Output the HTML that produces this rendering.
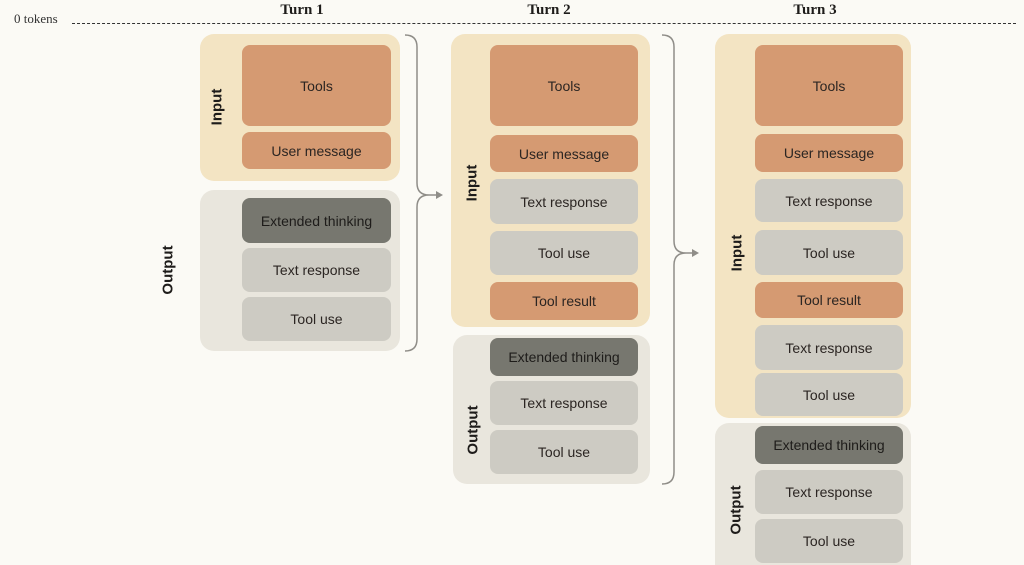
<!DOCTYPE html>
<html style="overflow:hidden;width:1024px;height:565px"><head><meta charset="utf-8"><style>
body{margin:0;width:1024px;height:565px;background:#fbfaf5;position:relative;overflow:hidden;font-family:"Liberation Sans",sans-serif;}
.a{position:absolute;box-sizing:border-box;}
.ci{background:#f3e4c3;border-radius:14px;}
.co{background:#e9e6dd;border-radius:14px;}
.b{position:absolute;display:flex;align-items:center;justify-content:center;font-size:14px;color:#2b2522;border-radius:8px;}
.o{background:#d59a72;}
.g{background:#cdcbc3;}
.d{background:#77776f;color:#1e1c1a;}
.lbl{position:absolute;transform:translate(-50%,-50%) rotate(-90deg);font-weight:bold;font-size:15px;color:#1e1c1a;white-space:nowrap;}
.t{position:absolute;font-family:"Liberation Serif",serif;font-weight:bold;font-size:15px;color:#1e1c1a;transform:translateX(-50%);top:2px;}
</style></head><body>
<div class="a" style="left:14px;top:11px;font-family:'Liberation Serif',serif;font-size:13px;color:#333">0 tokens</div>
<div class="a" style="left:72px;top:23px;width:944px;border-top:1.5px dashed #333"></div>
<div class="t" style="left:302px">Turn 1</div>
<div class="t" style="left:549px">Turn 2</div>
<div class="t" style="left:815px">Turn 3</div>

<!-- Turn 1 -->
<div class="a ci" style="left:200px;top:34px;width:200px;height:147px"></div>
<div class="lbl" style="left:217px;top:107px">Input</div>
<div class="b o" style="left:242px;top:45px;width:149px;height:81px">Tools</div>
<div class="b o" style="left:242px;top:132px;width:149px;height:37px">User message</div>
<div class="a co" style="left:200px;top:190px;width:200px;height:161px"></div>
<div class="lbl" style="left:168px;top:270px">Output</div>
<div class="b d" style="left:242px;top:198px;width:149px;height:45px">Extended thinking</div>
<div class="b g" style="left:242px;top:248px;width:149px;height:44px">Text response</div>
<div class="b g" style="left:242px;top:297px;width:149px;height:44px">Tool use</div>

<!-- Turn 2 -->
<div class="a ci" style="left:451px;top:34px;width:199px;height:293px"></div>
<div class="lbl" style="left:472px;top:183px">Input</div>
<div class="b o" style="left:490px;top:45px;width:148px;height:81px">Tools</div>
<div class="b o" style="left:490px;top:135px;width:148px;height:37px">User message</div>
<div class="b g" style="left:490px;top:179px;width:148px;height:45px">Text response</div>
<div class="b g" style="left:490px;top:231px;width:148px;height:44px">Tool use</div>
<div class="b o" style="left:490px;top:282px;width:148px;height:38px">Tool result</div>
<div class="a co" style="left:453px;top:335px;width:197px;height:149px"></div>
<div class="lbl" style="left:473px;top:430px">Output</div>
<div class="b d" style="left:490px;top:338px;width:148px;height:38px">Extended thinking</div>
<div class="b g" style="left:490px;top:381px;width:148px;height:44px">Text response</div>
<div class="b g" style="left:490px;top:430px;width:148px;height:44px">Tool use</div>

<!-- Turn 3 -->
<div class="a ci" style="left:715px;top:34px;width:196px;height:384px"></div>
<div class="lbl" style="left:737px;top:253px">Input</div>
<div class="b o" style="left:755px;top:45px;width:148px;height:81px">Tools</div>
<div class="b o" style="left:755px;top:134px;width:148px;height:38px">User message</div>
<div class="b g" style="left:755px;top:179px;width:148px;height:43px">Text response</div>
<div class="b g" style="left:755px;top:230px;width:148px;height:45px">Tool use</div>
<div class="b o" style="left:755px;top:282px;width:148px;height:36px">Tool result</div>
<div class="b g" style="left:755px;top:325px;width:148px;height:45px">Text response</div>
<div class="b g" style="left:755px;top:373px;width:148px;height:43px">Tool use</div>
<div class="a co" style="left:715px;top:423px;width:196px;height:142px;border-bottom-left-radius:0;border-bottom-right-radius:0"></div>
<div class="lbl" style="left:736px;top:510px">Output</div>
<div class="b d" style="left:755px;top:426px;width:148px;height:38px">Extended thinking</div>
<div class="b g" style="left:755px;top:470px;width:148px;height:44px">Text response</div>
<div class="b g" style="left:755px;top:519px;width:148px;height:44px">Tool use</div>

<svg class="a" style="left:0;top:0" width="1024" height="565">
<g fill="none" stroke="#8f8d88" stroke-width="1.5">
<path d="M405 35 Q417 35 417 47 L417 183 Q417 195 429 195 M429 195 Q417 195 417 207 L417 339 Q417 351 405 351"/>
<path d="M429 195 L438 195"/>
<path d="M662 35 Q674 35 674 47 L674 241 Q674 253 686 253 M686 253 Q674 253 674 265 L674 472 Q674 484 662 484"/>
<path d="M686 253 L694 253"/>
</g>
<path d="M436 191 L443 195 L436 199 Z" fill="#8f8d88"/>
<path d="M692 249 L699 253 L692 257 Z" fill="#8f8d88"/>
</svg>
</body></html>
